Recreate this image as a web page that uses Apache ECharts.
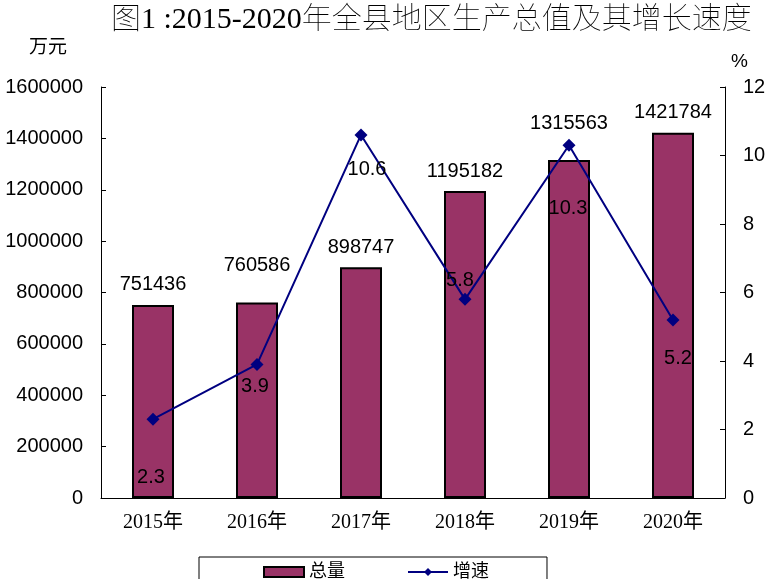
<!DOCTYPE html>
<html>
<head>
<meta charset="utf-8">
<script src="https://cdn.jsdelivr.net/npm/echarts@6/dist/echarts.min.js"></script>
<style>
html,body{margin:0;padding:0;background:#fff;}
#chart{width:769px;height:579px;}
</style>
</head>
<body>
<div id="chart"></div>
<script>
const years = ['2015年', '2016年', '2017年', '2018年', '2019年', '2020年'];
const totals = [751436, 760586, 898747, 1195182, 1315563, 1421784];
const growth = [2.3, 3.9, 10.6, 5.8, 10.3, 5.2];
const leftTicks = { min: 0, max: 1600000, interval: 200000 };
const rightTicks = { min: 0, max: 12, interval: 2 };

// label placement (styling only)
const growthLabelOffsets = [[-2, 58], [-2, 22], [6, 35], [-5, -19], [-1, 63], [5, 39]];
const totalLabelLift = [0, 17, 0, 0, 17, 0];

const serifCJK = '"Liberation Serif", "Noto Sans CJK SC", serif';
const sansFont = '"Liberation Sans", Arial, sans-serif';

const chart = echarts.init(document.getElementById('chart'), null, { renderer: 'canvas' });

const barData = totals.map((v, i) => ({
  value: v,
  label: { offset: [0, -totalLabelLift[i]] }
}));
const lineData = growth.map((v, i) => ({
  value: v,
  label: { offset: growthLabelOffsets[i] }
}));

chart.setOption({
  animation: false,
  backgroundColor: '#fff',
  title: {
    text: '图1 :2015-2020年全县地区生产总值及其增长速度',
    left: 106,
    top: 0,
    textStyle: { fontFamily: serifCJK, fontSize: 30, fontWeight: 'lighter', color: '#000' }
  },
  legend: {
    left: 199,
    top: 557,
    padding: [6, 58, 12, 64],
    borderColor: '#000',
    borderWidth: 1,
    itemGap: 62,
    itemWidth: 40,
    itemHeight: 10,
    textStyle: { fontFamily: serifCJK, fontSize: 18, color: '#000' },
    data: [
      { name: '总量', icon: 'rect' },
      { name: '增速' }
    ]
  },
  grid: { left: 101, right: 44, top: 87, bottom: 81, containLabel: false, outerBoundsMode: 'none' },
  xAxis: {
    type: 'category',
    data: years,
    boundaryGap: true,
    axisLine: { lineStyle: { color: '#000', width: 1 } },
    axisTick: { inside: true, length: 5, lineStyle: { color: '#000' } },
    axisLabel: { fontFamily: serifCJK, fontSize: 20, color: '#000', margin: 15 }
  },
  yAxis: [
    {
      type: 'value',
      min: leftTicks.min, max: leftTicks.max, interval: leftTicks.interval,
      name: '万元',
      nameLocation: 'end',
      nameGap: 32,
      nameTextStyle: { fontFamily: '"Noto Sans CJK SC", sans-serif', fontSize: 19, color: '#000', align: 'right', padding: [0, 34, 0, 0] },
      axisLine: { show: true, lineStyle: { color: '#000', width: 1 } },
      axisTick: { show: true, inside: true, length: 5, lineStyle: { color: '#000' } },
      splitLine: { show: false },
      axisLabel: { fontFamily: sansFont, fontSize: 20, color: '#000', margin: 18, formatter: v => String(v) }
    },
    {
      type: 'value',
      min: rightTicks.min, max: rightTicks.max, interval: rightTicks.interval,
      name: '%',
      nameLocation: 'end',
      nameGap: 16,
      nameTextStyle: { fontFamily: sansFont, fontSize: 19, color: '#000', align: 'left', padding: [0, 0, 0, 6] },
      axisLine: { show: true, lineStyle: { color: '#000', width: 1 } },
      axisTick: { show: true, inside: true, length: 5, lineStyle: { color: '#000' } },
      splitLine: { show: false },
      axisLabel: { fontFamily: sansFont, fontSize: 20, color: '#000', margin: 18, formatter: v => String(v) }
    }
  ],
  series: [
    {
      name: '总量',
      type: 'bar',
      yAxisIndex: 0,
      barWidth: 42,
      data: barData,
      itemStyle: { color: '#993366', borderColor: '#000', borderWidth: 2 },
      label: {
        show: true,
        position: 'top',
        distance: 10,
        fontFamily: sansFont,
        fontSize: 20,
        color: '#000'
      }
    },
    {
      name: '增速',
      type: 'line',
      yAxisIndex: 1,
      data: lineData,
      symbol: 'diamond',
      symbolSize: 13,
      lineStyle: { color: '#000080', width: 2 },
      itemStyle: { color: '#000080' },
      label: {
        show: true,
        position: 'inside',
        fontFamily: sansFont,
        fontSize: 20,
        color: '#000'
      },
      z: 5
    }
  ]
});
</script>
</body>
</html>
